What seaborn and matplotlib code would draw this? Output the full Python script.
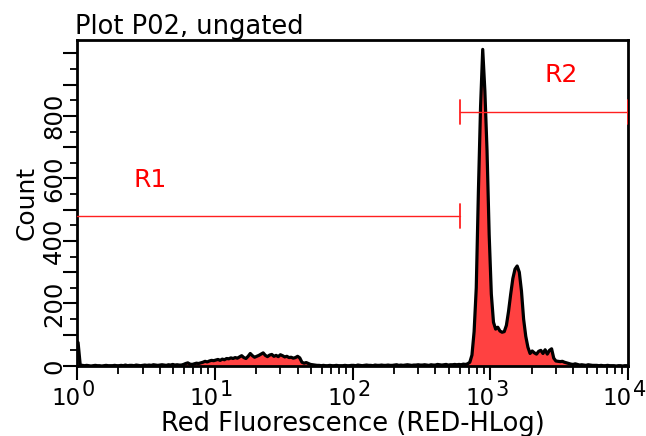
import numpy as np
import pandas as pd
import matplotlib
matplotlib.use("Agg")
import matplotlib.pyplot as plt
import seaborn as sns
from matplotlib.ticker import LogLocator, MultipleLocator, FuncFormatter, NullFormatter

# ---- data: 256 log-spaced channels over 10^0 .. 10^4 (1/64 decade each) ----
n_channels = 256
decades = 4
counts = [
    75, 3, 2, 1, 2, 1, 0, 1, 2, 1, 1, 0, 1, 2, 1, 1,
    1, 2, 1, 1, 2, 1, 3, 1, 2, 2, 1, 3, 2, 1, 2, 3,
    2, 3, 2, 4, 3, 2, 3, 4, 3, 2, 4, 3, 5, 3, 4, 3,
    3, 5, 8, 10, 6, 5, 7, 9, 8, 10, 12, 15, 13, 16, 18, 17,
    19, 21, 18, 22, 20, 24, 23, 26, 24, 27, 25, 29, 33, 27, 24, 31,
    40, 33, 28, 31, 34, 38, 42, 34, 30, 35, 37, 31, 34, 30, 36, 33,
    29, 31, 27, 28, 25, 27, 31, 26, 12, 9, 11, 8, 5, 4, 3, 2,
    2, 1, 2, 1, 1, 2, 1, 1, 2, 1, 1, 1, 2, 1, 1, 2,
    2, 1, 3, 2, 1, 2, 3, 2, 2, 1, 3, 2, 2, 3, 2, 2,
    3, 2, 2, 3, 4, 2, 3, 2, 3, 4, 3, 2, 3, 3, 4, 3,
    3, 4, 3, 2, 4, 3, 3, 5, 4, 3, 4, 5, 3, 4, 4, 5,
    4, 5, 4, 6, 5, 7, 12, 35, 110, 250, 560, 830, 1013, 880, 690, 420,
    230, 140, 118, 124, 112, 108, 110, 130, 175, 230, 280, 310, 320, 300, 240, 150,
    95, 60, 40, 48, 42, 38, 47, 50, 40, 52, 38, 50, 55, 25, 16, 15,
    14, 15, 12, 10, 8, 6, 5, 7, 5, 3, 4, 3, 2, 4, 3, 2,
    2, 2, 1, 2, 1, 1, 2, 1, 1, 1, 0, 1, 1, 0, 1, 1,
]

gate_names = ["R1", "R2"]
gate_low = [1.0, 603.0]
gate_high = [603.0, 10000.0]
gate_level = [480, 813]
gate_label_x = [3.4, 3300.0]
gate_label_y = [595, 931]

title = "Plot P02, ungated"
xlabel = "Red Fluorescence (RED-HLog)"
ylabel = "Count"
ytick_labels = [0, 200, 400, 600, 800]
x_decades = [0, 1, 2, 3, 4]

channel = 10 ** ((np.arange(n_channels) + 0.5) * decades / n_channels)
df = pd.DataFrame({"channel": channel, "count": counts})

sns.set_theme(style="white")
plt.rcParams["font.family"] = ["DejaVu Sans"]

fig = plt.figure(figsize=(6.46, 4.36), dpi=100)
ax = fig.add_axes([77 / 646, 70 / 436, 551 / 646, 326 / 436])

ax.fill_between(df["channel"], 0, df["count"], color="#ff4141", linewidth=0, zorder=2)
sns.lineplot(data=df, x="channel", y="count", ax=ax, color="black", linewidth=2.3,
             zorder=3, estimator=None)

ax.set_xscale("log")
ax.set_xlim(1, 10000)
ax.set_ylim(0, 1043)

# gates
half = 38
for name, lo, hi, lev, lx, ly in zip(gate_names, gate_low, gate_high, gate_level,
                                     gate_label_x, gate_label_y):
    ax.plot([lo, hi], [lev, lev], color="#ff2020", linewidth=1.0, zorder=4)
    ends = [hi] if lo <= 1.0 else [lo, hi]
    for e in ends:
        ax.plot([e, e], [lev - half, lev + half], color="#ff2020", linewidth=1.3, zorder=4)
    ax.text(lx, ly, name, color="#ff0000", fontsize=18, ha="center", va="center", zorder=5)

# ticks
ax.xaxis.set_major_locator(LogLocator(base=10, numticks=10))
ax.xaxis.set_minor_locator(LogLocator(base=10, subs=np.arange(2, 10), numticks=20))
ax.xaxis.set_major_formatter(NullFormatter())
ax.xaxis.set_minor_formatter(NullFormatter())
ax.yaxis.set_major_locator(MultipleLocator(100))
ax.yaxis.set_minor_locator(MultipleLocator(50))
ax.yaxis.set_major_formatter(FuncFormatter(
    lambda v, p: f"{int(round(v))}" if int(round(v)) in ytick_labels else ""))
ax.tick_params(axis="both", which="major", direction="out", length=10, width=1.5,
               color="black", labelsize=17.5, labelcolor="black", bottom=True, left=True)
ax.tick_params(axis="y", which="major", pad=-2)
ax.tick_params(axis="x", which="minor", direction="out", length=6, width=1.3,
               color="black", bottom=True)
ax.tick_params(axis="y", which="minor", direction="out", length=5, width=1.3,
               color="black", left=True)
for lbl in ax.get_yticklabels():
    lbl.set_rotation(90)
    lbl.set_va("center")

# decade labels with full-size raised exponents
for d in x_decades:
    ax.annotate("10", xy=(10 ** d, 0), xycoords=("data", "axes fraction"),
                xytext=(4, -21), textcoords="offset pixels",
                ha="right", va="top", fontsize=16.5, color="black")
    ax.annotate(str(d), xy=(10 ** d, 0), xycoords=("data", "axes fraction"),
                xytext=(5, -14), textcoords="offset pixels",
                ha="left", va="top", fontsize=15, color="black")

for s in ax.spines.values():
    s.set_color("black")
    s.set_linewidth(2)
    s.set_visible(True)

ax.set_xlabel(xlabel, fontsize=18.5, color="black", labelpad=19)
ax.set_ylabel(ylabel, fontsize=18, color="black", labelpad=2)
ax.set_title(title, fontsize=18.5, loc="left", pad=2, color="black", x=-0.003)
ax.grid(False)

fig.savefig("out.png", dpi=100)
